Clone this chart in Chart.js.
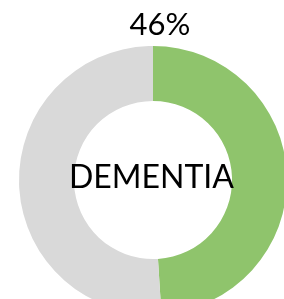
<!DOCTYPE html>
<html>
<head>
<meta charset="utf-8">
<script src="https://cdn.jsdelivr.net/npm/chart.js@4/dist/chart.umd.min.js"></script>
<style>
  html, body { margin: 0; padding: 0; background: #fff; overflow: hidden; }
  #wrap { position: absolute; left: 0; top: 0; width: 306px; height: 360px; }
</style>
</head>
<body>
<div id="wrap"><canvas id="ring" width="306" height="360"></canvas></div>
<script>
const categories = ['Dementia', 'Other'];
const shares = [49, 51];
const pctLabel = '46%';
const centerLabel = 'DEMENTIA';
const sliceColors = ['#8FC46C', '#D9D9D9'];

// text on top + in the hole
const labelsPlugin = {
  id: 'labels',
  afterDraw(chart) {
    const { ctx, chartArea } = chart;
    const cx = (chartArea.left + chartArea.right) / 2;
    const cy = (chartArea.top + chartArea.bottom) / 2;
    ctx.save();
    ctx.fillStyle = '#000';
    ctx.textAlign = 'center';
    ctx.textBaseline = 'alphabetic';
    ctx.font = '31px Lato';
    ctx.fillText(pctLabel, 160, 35);
    ctx.font = '32px Lato';
    ctx.fillText(centerLabel, cx - 1.5, cy + 8);
    ctx.restore();
  }
};

new Chart(document.getElementById('ring'), {
  type: 'doughnut',
  data: {
    labels: categories,
    datasets: [{
      data: shares,
      backgroundColor: sliceColors,
      borderWidth: 0
    }]
  },
  options: {
    responsive: false,
    maintainAspectRatio: false,
    animation: false,
    cutout: '59%',
    layout: { padding: { left: 19, right: 19, top: 46, bottom: 46 } },
    plugins: {
      legend: { display: false },
      tooltip: { enabled: false }
    }
  },
  plugins: [labelsPlugin]
});
</script>
</body>
</html>
